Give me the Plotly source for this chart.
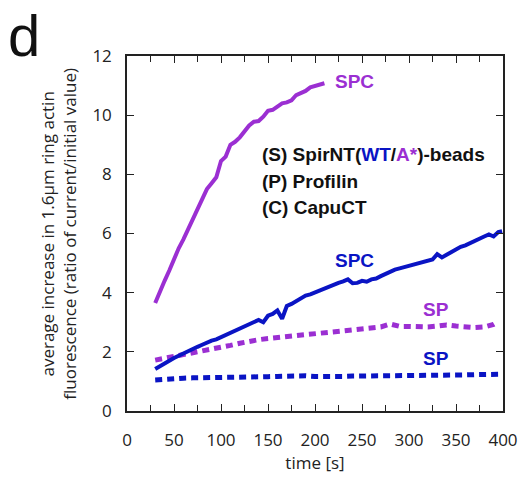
import plotly.graph_objects as go

# ---- data ----
t_spc_a = [30, 35, 40, 45, 50, 55, 60, 65, 70, 75, 80, 85, 90, 95, 100, 105, 110, 115, 120, 125,
           130, 135, 140, 145, 150, 155, 160, 165, 170, 175, 180, 185, 190, 195, 200, 205, 210]
v_spc_a = [3.65, 4.05, 4.4, 4.75, 5.15, 5.5, 5.8, 6.15, 6.5, 6.8, 7.2, 7.5, 7.7, 7.9, 8.45, 8.6, 9.0, 9.1, 9.25, 9.45,
           9.65, 9.78, 9.8, 9.95, 10.15, 10.18, 10.3, 10.4, 10.43, 10.5, 10.68, 10.75, 10.82, 10.94, 10.98, 11.03, 11.08]

t_spc_wt = [30, 35, 40, 45, 50, 55, 60, 65, 70, 75, 80, 85, 90, 95, 100, 105, 110, 115, 120, 125,
            130, 135, 140, 145, 150, 155, 160, 165, 170, 175, 180, 185, 190, 195, 200, 205, 210, 215, 220, 225,
            230, 235, 240, 245, 250, 255, 260, 265, 270, 275, 280, 285, 290, 295, 300, 305, 310, 315, 320, 325,
            330, 335, 340, 345, 350, 355, 360, 365, 370, 375, 380, 385, 390, 395, 399]
v_spc_wt = [1.42, 1.52, 1.61, 1.7, 1.79, 1.87, 1.95, 2.04, 2.1, 2.17, 2.24, 2.32, 2.38, 2.42, 2.49, 2.57, 2.66, 2.73, 2.8, 2.86,
            2.94, 3.0, 3.08, 3.0, 3.22, 3.28, 3.4, 3.12, 3.55, 3.62, 3.72, 3.8, 3.9, 3.94, 4.01, 4.08, 4.15, 4.2, 4.27, 4.33,
            4.38, 4.45, 4.32, 4.33, 4.4, 4.37, 4.45, 4.48, 4.56, 4.64, 4.7, 4.78, 4.82, 4.86, 4.92, 4.96, 5.0, 5.04, 5.08, 5.12,
            5.3, 5.19, 5.28, 5.38, 5.46, 5.55, 5.6, 5.68, 5.76, 5.85, 5.9, 5.97, 5.9, 6.05, 6.08]

t_sp_a = [30, 40, 50, 60, 70, 80, 90, 100, 110, 120, 130, 140, 150, 160, 170, 180, 190, 200, 210, 220,
          230, 240, 250, 260, 270, 280, 290, 300, 310, 320, 330, 340, 350, 360, 370, 380, 390, 395]
v_sp_a = [1.72, 1.78, 1.84, 1.9, 1.95, 2.0, 2.07, 2.14, 2.22, 2.29, 2.36, 2.41, 2.45, 2.48, 2.52, 2.57, 2.6, 2.63, 2.65, 2.66,
          2.68, 2.72, 2.77, 2.8, 2.84, 2.94, 2.86, 2.86, 2.84, 2.84, 2.87, 2.91, 2.87, 2.83, 2.82, 2.84, 2.93, 3.02]

t_sp_wt = [30, 40, 50, 60, 70, 80, 90, 100, 110, 120, 130, 140, 150, 160, 170, 180, 190, 200, 210, 220,
           230, 240, 250, 260, 270, 280, 290, 300, 310, 320, 330, 340, 350, 360, 370, 380, 390, 397]
v_sp_wt = [1.05, 1.08, 1.1, 1.11, 1.12, 1.12, 1.13, 1.13, 1.14, 1.14, 1.15, 1.15, 1.16, 1.17, 1.18, 1.21, 1.19, 1.17, 1.16, 1.17,
           1.17, 1.18, 1.18, 1.19, 1.2, 1.21, 1.19, 1.2, 1.2, 1.21, 1.21, 1.22, 1.22, 1.22, 1.23, 1.24, 1.24, 1.24]

x_ticks = [0, 50, 100, 150, 200, 250, 300, 350, 400]
y_ticks = [0, 2, 4, 6, 8, 10, 12]

PURPLE = "#9B2FD2"
BLUE = "#0A14C4"
AXIS = "#222222"

fig = go.Figure()
fig.add_trace(go.Scatter(x=t_sp_wt, y=v_sp_wt, mode="lines",
                         line=dict(color=BLUE, width=5, dash="7px,5px")))
fig.add_trace(go.Scatter(x=t_sp_a, y=v_sp_a, mode="lines",
                         line=dict(color=PURPLE, width=5, dash="7px,5px")))
fig.add_trace(go.Scatter(x=t_spc_wt, y=v_spc_wt, mode="lines",
                         line=dict(color=BLUE, width=4)))
fig.add_trace(go.Scatter(x=t_spc_a, y=v_spc_a, mode="lines",
                         line=dict(color=PURPLE, width=4)))

lab_font = dict(family="Arial, Liberation Sans", size=19, weight="bold")
ann = []
ann.append(dict(x=242, y=11.13, xref="x", yref="y", text="SPC", showarrow=False,
                font=dict(lab_font, color=PURPLE)))
ann.append(dict(x=242, y=5.09, xref="x", yref="y", text="SPC", showarrow=False,
                font=dict(lab_font, color=BLUE)))
ann.append(dict(x=329, y=3.42, xref="x", yref="y", text="SP", showarrow=False,
                font=dict(lab_font, color=PURPLE)))
ann.append(dict(x=329, y=1.76, xref="x", yref="y", text="SP", showarrow=False,
                font=dict(lab_font, color=BLUE)))
legend_lines = [
    "(S) SpirNT(<span style='color:%s'>WT</span>/<span style='color:%s'>A*</span>)-beads" % (BLUE, PURPLE),
    "(P) Profilin",
    "(C) CapuCT",
]
legend_y = [8.66, 7.77, 6.88]
for txt, yy in zip(legend_lines, legend_y):
    ann.append(dict(x=141, y=yy, xref="x", yref="y", text=txt, showarrow=False,
                    xanchor="left", font=dict(lab_font, color="#111111")))
# panel letter
ann.append(dict(x=-0.322, y=1.154, xref="paper", yref="paper", text="d", showarrow=False,
                xanchor="left", yanchor="top",
                font=dict(family="Arial, Liberation Sans", size=58, color="#111111")))
# y-axis title
ann.append(dict(x=-0.183, y=0.5, xref="paper", yref="paper",
                text="average increase in 1.6µm ring actin<br>fluorescence (ratio of current/initial value)",
                showarrow=False, textangle=-90, xanchor="center", yanchor="middle",
                font=dict(family="Open Sans", size=17, color="#222222")))

tick_font = dict(family="Open Sans", size=17, color="#222222")
fig.update_layout(
    width=530, height=478,
    margin=dict(l=127, r=19, t=56, b=66),
    paper_bgcolor="white", plot_bgcolor="white",
    showlegend=False,
    annotations=ann,
    xaxis=dict(range=[0, 400], tickvals=x_ticks, ticktext=[str(v) for v in x_ticks],
               ticks="inside", ticklen=7, tickwidth=1.3, tickcolor=AXIS,
               minor=dict(dtick=25, tick0=0, ticks="inside", ticklen=6, tickwidth=1.3, tickcolor=AXIS),
               showline=True, linecolor=AXIS, linewidth=1.5, mirror="allticks",
               showgrid=False, zeroline=False, tickfont=tick_font, ticklabelstandoff=13,
               title=dict(text="time [s]", font=tick_font, standoff=3)),
    yaxis=dict(range=[0, 12], tickvals=y_ticks, ticktext=[str(v) for v in y_ticks],
               ticks="inside", ticklen=7, tickwidth=1.3, tickcolor=AXIS,
               showline=True, linecolor=AXIS, linewidth=1.5, mirror="allticks",
               showgrid=False, zeroline=False, tickfont=tick_font, ticklabelstandoff=10),
)

fig.write_html("out.html")
